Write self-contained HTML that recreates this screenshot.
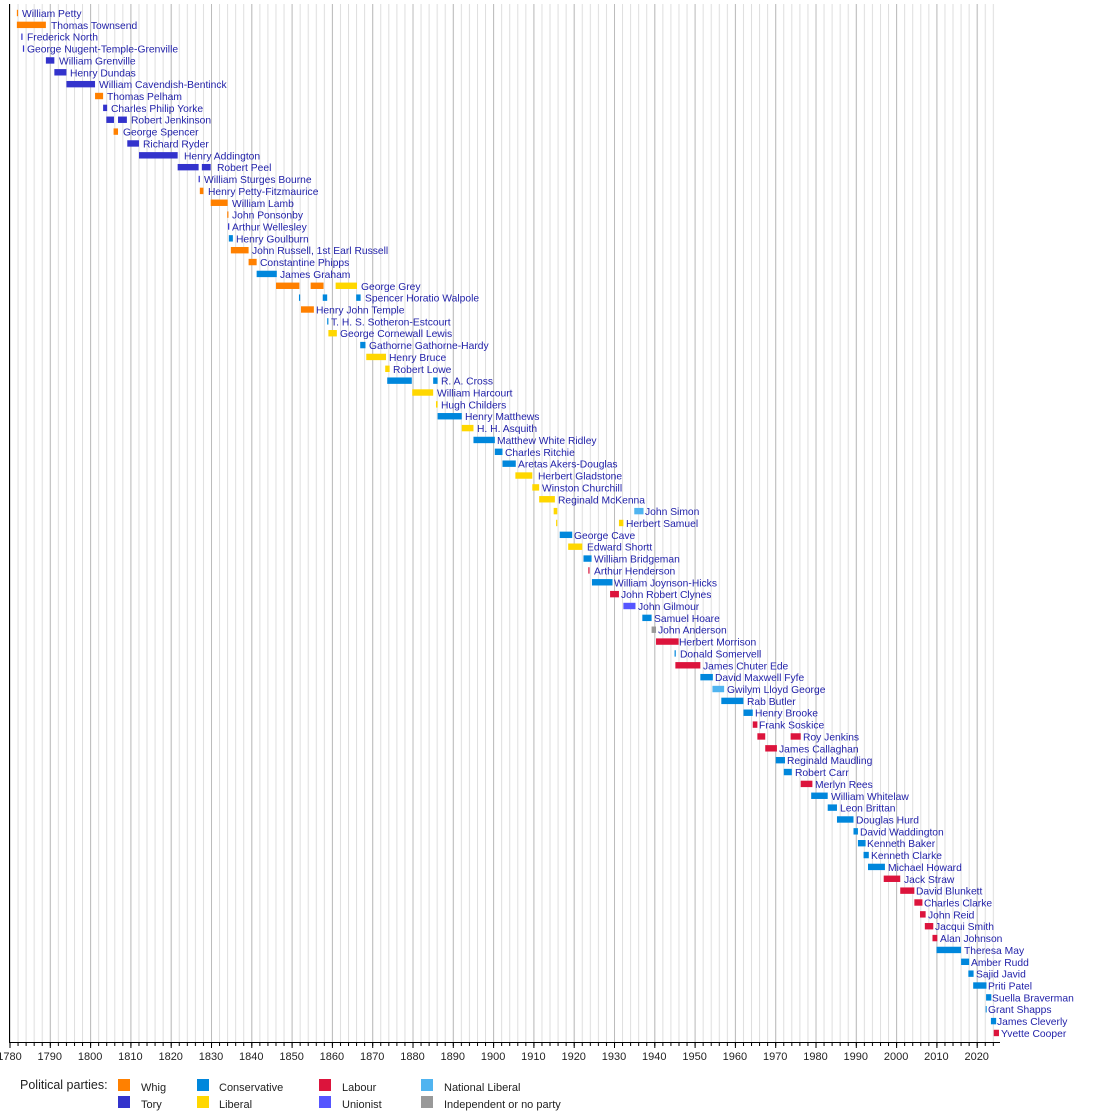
<!DOCTYPE html>
<html><head><meta charset="utf-8"><style>
html,body{margin:0;padding:0;background:#fff;}
svg{display:block;font-family:"Liberation Sans",Arial,sans-serif;}
.l{font-size:10.3px;fill:#1f1fa8;}
.a{font-size:11px;fill:#222;text-anchor:middle;}
.g{font-size:11px;fill:#222;}
</style></head><body>
<svg width="1100" height="1112" viewBox="0 0 1100 1112" xmlns="http://www.w3.org/2000/svg">
<defs>
<pattern id="mg" patternUnits="userSpaceOnUse" x="9.5" y="0" width="8.06" height="10"><rect x="0" y="0" width="1" height="10" fill="#dedede"/></pattern>
<pattern id="Mg" patternUnits="userSpaceOnUse" x="9.5" y="0" width="40.3" height="10"><rect x="0" y="0" width="1" height="10" fill="#bcbcbc"/></pattern>
<pattern id="mt" patternUnits="userSpaceOnUse" x="9.5" y="0" width="8.06" height="10"><rect x="0" y="0" width="1" height="10" fill="#000"/></pattern>
<pattern id="Mt" patternUnits="userSpaceOnUse" x="9.5" y="0" width="40.3" height="10"><rect x="0" y="0" width="1" height="10" fill="#000"/></pattern>
</defs>
<rect x="10" y="4" width="990" height="1038" fill="url(#mg)"/>
<rect x="10" y="4" width="990" height="1038" fill="url(#Mg)"/>
<rect x="9" y="4" width="1" height="1039" fill="#000"/>
<rect x="9" y="1042" width="991" height="1" fill="#000"/>
<rect x="10" y="1043" width="990" height="3" fill="url(#mt)"/>
<rect x="9" y="1043" width="991" height="5" fill="url(#Mt)"/>
<g>
<text class="a" x="9.5" y="1060">1780</text><text class="a" x="49.8" y="1060">1790</text><text class="a" x="90.1" y="1060">1800</text><text class="a" x="130.4" y="1060">1810</text><text class="a" x="170.7" y="1060">1820</text><text class="a" x="211" y="1060">1830</text><text class="a" x="251.3" y="1060">1840</text><text class="a" x="291.6" y="1060">1850</text><text class="a" x="331.9" y="1060">1860</text><text class="a" x="372.2" y="1060">1870</text><text class="a" x="412.5" y="1060">1880</text><text class="a" x="452.8" y="1060">1890</text><text class="a" x="493.1" y="1060">1900</text><text class="a" x="533.4" y="1060">1910</text><text class="a" x="573.7" y="1060">1920</text><text class="a" x="614" y="1060">1930</text><text class="a" x="654.3" y="1060">1940</text><text class="a" x="694.6" y="1060">1950</text><text class="a" x="734.9" y="1060">1960</text><text class="a" x="775.2" y="1060">1970</text><text class="a" x="815.5" y="1060">1980</text><text class="a" x="855.8" y="1060">1990</text><text class="a" x="896.1" y="1060">2000</text><text class="a" x="936.4" y="1060">2010</text><text class="a" x="976.7" y="1060">2020</text>
</g>
<g transform="translate(8,13) scale(4.03,11.86)">
<g transform="translate(0,-0.27)">
<rect x="2.2" y="0" width="0.3" height="0.54" fill="#ff8000"/>
<rect x="2.2" y="1" width="7.2" height="0.54" fill="#ff8000"/>
<rect x="3.3" y="2" width="0.3" height="0.54" fill="#3333cc"/>
<rect x="3.7" y="3" width="0.3" height="0.54" fill="#3333cc"/>
<rect x="9.4" y="4" width="2.1" height="0.54" fill="#3333cc"/>
<rect x="11.5" y="5" width="3" height="0.54" fill="#3333cc"/>
<rect x="14.5" y="6" width="7.1" height="0.54" fill="#3333cc"/>
<rect x="21.6" y="7" width="2" height="0.54" fill="#ff8000"/>
<rect x="23.6" y="8" width="1" height="0.54" fill="#3333cc"/>
<rect x="24.4" y="9" width="1.9" height="0.54" fill="#3333cc"/>
<rect x="27.3" y="9" width="2.2" height="0.54" fill="#3333cc"/>
<rect x="26.2" y="10" width="1.1" height="0.54" fill="#ff8000"/>
<rect x="29.6" y="11" width="2.9" height="0.54" fill="#3333cc"/>
<rect x="32.5" y="12" width="9.6" height="0.54" fill="#3333cc"/>
<rect x="42.1" y="13" width="5.2" height="0.54" fill="#3333cc"/>
<rect x="48.1" y="13" width="2.2" height="0.54" fill="#3333cc"/>
<rect x="47.3" y="14" width="0.3" height="0.54" fill="#3333cc"/>
<rect x="47.6" y="15" width="0.9" height="0.54" fill="#ff8000"/>
<rect x="50.3" y="16" width="4.2" height="0.54" fill="#ff8000"/>
<rect x="54.4" y="17" width="0.3" height="0.54" fill="#ff8000"/>
<rect x="54.6" y="18" width="0.3" height="0.54" fill="#3333cc"/>
<rect x="54.8" y="19" width="1" height="0.54" fill="#0087dc"/>
<rect x="55.3" y="20" width="4.4" height="0.54" fill="#ff8000"/>
<rect x="59.7" y="21" width="2" height="0.54" fill="#ff8000"/>
<rect x="61.7" y="22" width="5" height="0.54" fill="#0087dc"/>
<rect x="66.5" y="23" width="5.8" height="0.54" fill="#ff8000"/>
<rect x="75.1" y="23" width="3.2" height="0.54" fill="#ff8000"/>
<rect x="81.3" y="23" width="5.3" height="0.54" fill="#ffd700"/>
<rect x="72.2" y="24" width="0.3" height="0.54" fill="#0087dc"/>
<rect x="78.1" y="24" width="1.1" height="0.54" fill="#0087dc"/>
<rect x="86.4" y="24" width="1.1" height="0.54" fill="#0087dc"/>
<rect x="72.7" y="25" width="3.2" height="0.54" fill="#ff8000"/>
<rect x="79.2" y="26" width="0.3" height="0.54" fill="#0087dc"/>
<rect x="79.5" y="27" width="2.1" height="0.54" fill="#ffd700"/>
<rect x="87.4" y="28" width="1.3" height="0.54" fill="#0087dc"/>
<rect x="88.9" y="29" width="4.9" height="0.54" fill="#ffd700"/>
<rect x="93.6" y="30" width="1.1" height="0.54" fill="#ffd700"/>
<rect x="94.1" y="31" width="6.1" height="0.54" fill="#0087dc"/>
<rect x="105.5" y="31" width="1.1" height="0.54" fill="#0087dc"/>
<rect x="100.3" y="32" width="5.2" height="0.54" fill="#ffd700"/>
<rect x="106.2" y="33" width="0.4" height="0.54" fill="#ffd700"/>
<rect x="106.6" y="34" width="6" height="0.54" fill="#0087dc"/>
<rect x="112.6" y="35" width="2.9" height="0.54" fill="#ffd700"/>
<rect x="115.5" y="36" width="5.3" height="0.54" fill="#0087dc"/>
<rect x="120.8" y="37" width="1.9" height="0.54" fill="#0087dc"/>
<rect x="122.7" y="38" width="3.3" height="0.54" fill="#0087dc"/>
<rect x="125.9" y="39" width="4.2" height="0.54" fill="#ffd700"/>
<rect x="130.1" y="40" width="1.7" height="0.54" fill="#ffd700"/>
<rect x="131.8" y="41" width="3.9" height="0.54" fill="#ffd700"/>
<rect x="135.4" y="42" width="0.9" height="0.54" fill="#ffd700"/>
<rect x="155.4" y="42" width="2.3" height="0.54" fill="#50b4f0"/>
<rect x="136.0" y="43" width="0.3" height="0.54" fill="#ffd700"/>
<rect x="151.6" y="43" width="1.1" height="0.54" fill="#ffd700"/>
<rect x="136.9" y="44" width="3.1" height="0.54" fill="#0087dc"/>
<rect x="139.0" y="45" width="3.5" height="0.54" fill="#ffd700"/>
<rect x="142.8" y="46" width="2" height="0.54" fill="#0087dc"/>
<rect x="144.0" y="47" width="0.3" height="0.54" fill="#dc143c"/>
<rect x="144.9" y="48" width="5.1" height="0.54" fill="#0087dc"/>
<rect x="149.4" y="49" width="2.2" height="0.54" fill="#dc143c"/>
<rect x="152.7" y="50" width="3" height="0.54" fill="#5555ff"/>
<rect x="157.4" y="51" width="2.3" height="0.54" fill="#0087dc"/>
<rect x="159.7" y="52" width="1.1" height="0.54" fill="#999999"/>
<rect x="160.8" y="53" width="5.6" height="0.54" fill="#dc143c"/>
<rect x="165.4" y="54" width="0.3" height="0.54" fill="#0087dc"/>
<rect x="165.6" y="55" width="6.2" height="0.54" fill="#dc143c"/>
<rect x="171.8" y="56" width="3.1" height="0.54" fill="#0087dc"/>
<rect x="174.8" y="57" width="2.9" height="0.54" fill="#50b4f0"/>
<rect x="177.0" y="58" width="5.5" height="0.54" fill="#0087dc"/>
<rect x="182.5" y="59" width="2.3" height="0.54" fill="#0087dc"/>
<rect x="184.8" y="60" width="1.15" height="0.54" fill="#dc143c"/>
<rect x="185.95" y="61" width="1.95" height="0.54" fill="#dc143c"/>
<rect x="194.2" y="61" width="2.5" height="0.54" fill="#dc143c"/>
<rect x="187.9" y="62" width="2.9" height="0.54" fill="#dc143c"/>
<rect x="190.5" y="63" width="2.3" height="0.54" fill="#0087dc"/>
<rect x="192.5" y="64" width="2" height="0.54" fill="#0087dc"/>
<rect x="196.7" y="65" width="2.9" height="0.54" fill="#dc143c"/>
<rect x="199.3" y="66" width="4.1" height="0.54" fill="#0087dc"/>
<rect x="203.4" y="67" width="2.3" height="0.54" fill="#0087dc"/>
<rect x="205.7" y="68" width="4.1" height="0.54" fill="#0087dc"/>
<rect x="209.8" y="69" width="1.1" height="0.54" fill="#0087dc"/>
<rect x="210.9" y="70" width="1.9" height="0.54" fill="#0087dc"/>
<rect x="212.3" y="71" width="1.3" height="0.54" fill="#0087dc"/>
<rect x="213.4" y="72" width="4.2" height="0.54" fill="#0087dc"/>
<rect x="217.3" y="73" width="4.1" height="0.54" fill="#dc143c"/>
<rect x="221.4" y="74" width="3.5" height="0.54" fill="#dc143c"/>
<rect x="224.9" y="75" width="2" height="0.54" fill="#dc143c"/>
<rect x="226.3" y="76" width="1.4" height="0.54" fill="#dc143c"/>
<rect x="227.5" y="77" width="2.1" height="0.54" fill="#dc143c"/>
<rect x="229.4" y="78" width="1.2" height="0.54" fill="#dc143c"/>
<rect x="230.4" y="79" width="6.1" height="0.54" fill="#0087dc"/>
<rect x="236.5" y="80" width="2" height="0.54" fill="#0087dc"/>
<rect x="238.3" y="81" width="1.3" height="0.54" fill="#0087dc"/>
<rect x="239.5" y="82" width="3.3" height="0.54" fill="#0087dc"/>
<rect x="242.7" y="83" width="1.3" height="0.54" fill="#0087dc"/>
<rect x="242.6" y="84" width="0.25" height="0.54" fill="#0087dc"/>
<rect x="243.9" y="85" width="1.3" height="0.54" fill="#0087dc"/>
<rect x="244.6" y="86" width="1.3" height="0.54" fill="#dc143c"/>
</g>
</g>
<g class="lab">
<text class="l" x="22" y="17">William Petty</text>
<text class="l" x="51" y="28.9">Thomas Townsend</text>
<text class="l" x="27" y="40.7">Frederick North</text>
<text class="l" x="27" y="52.6">George Nugent-Temple-Grenville</text>
<text class="l" x="59" y="64.4">William Grenville</text>
<text class="l" x="70" y="76.3">Henry Dundas</text>
<text class="l" x="99" y="88.2">William Cavendish-Bentinck</text>
<text class="l" x="107" y="100">Thomas Pelham</text>
<text class="l" x="111" y="111.9">Charles Philip Yorke</text>
<text class="l" x="131" y="123.7">Robert Jenkinson</text>
<text class="l" x="123" y="135.6">George Spencer</text>
<text class="l" x="143" y="147.5">Richard Ryder</text>
<text class="l" x="184" y="159.3">Henry Addington</text>
<text class="l" x="217" y="171.2">Robert Peel</text>
<text class="l" x="204" y="183">William Sturges Bourne</text>
<text class="l" x="208" y="194.9">Henry Petty-Fitzmaurice</text>
<text class="l" x="232" y="206.8">William Lamb</text>
<text class="l" x="232" y="218.6">John Ponsonby</text>
<text class="l" x="232" y="230.5">Arthur Wellesley</text>
<text class="l" x="236" y="242.3">Henry Goulburn</text>
<text class="l" x="252" y="254.2">John Russell, 1st Earl Russell</text>
<text class="l" x="260" y="266.1">Constantine Phipps</text>
<text class="l" x="280" y="277.9">James Graham</text>
<text class="l" x="361" y="289.8">George Grey</text>
<text class="l" x="365" y="301.6">Spencer Horatio Walpole</text>
<text class="l" x="316" y="313.5">Henry John Temple</text>
<text class="l" x="331" y="325.4">T. H. S. Sotheron-Estcourt</text>
<text class="l" x="340" y="337.2">George Cornewall Lewis</text>
<text class="l" x="369" y="349.1">Gathorne Gathorne-Hardy</text>
<text class="l" x="389" y="360.9">Henry Bruce</text>
<text class="l" x="393" y="372.8">Robert Lowe</text>
<text class="l" x="441" y="384.7">R. A. Cross</text>
<text class="l" x="437" y="396.5">William Harcourt</text>
<text class="l" x="441" y="408.4">Hugh Childers</text>
<text class="l" x="465" y="420.2">Henry Matthews</text>
<text class="l" x="477" y="432.1">H. H. Asquith</text>
<text class="l" x="497" y="444">Matthew White Ridley</text>
<text class="l" x="505" y="455.8">Charles Ritchie</text>
<text class="l" x="518" y="467.7">Aretas Akers-Douglas</text>
<text class="l" x="538" y="479.5">Herbert Gladstone</text>
<text class="l" x="542" y="491.4">Winston Churchill</text>
<text class="l" x="558" y="503.3">Reginald McKenna</text>
<text class="l" x="645" y="515.1">John Simon</text>
<text class="l" x="626" y="527">Herbert Samuel</text>
<text class="l" x="574" y="538.8">George Cave</text>
<text class="l" x="587" y="550.7">Edward Shortt</text>
<text class="l" x="594" y="562.6">William Bridgeman</text>
<text class="l" x="594" y="574.4">Arthur Henderson</text>
<text class="l" x="614" y="586.3">William Joynson-Hicks</text>
<text class="l" x="621" y="598.1">John Robert Clynes</text>
<text class="l" x="638" y="610">John Gilmour</text>
<text class="l" x="654" y="621.9">Samuel Hoare</text>
<text class="l" x="658" y="633.7">John Anderson</text>
<text class="l" x="679" y="645.6">Herbert Morrison</text>
<text class="l" x="680" y="657.4">Donald Somervell</text>
<text class="l" x="703" y="669.3">James Chuter Ede</text>
<text class="l" x="715" y="681.2">David Maxwell Fyfe</text>
<text class="l" x="727" y="693">Gwilym Lloyd George</text>
<text class="l" x="747" y="704.9">Rab Butler</text>
<text class="l" x="755" y="716.7">Henry Brooke</text>
<text class="l" x="759" y="728.6">Frank Soskice</text>
<text class="l" x="803" y="740.5">Roy Jenkins</text>
<text class="l" x="779" y="752.3">James Callaghan</text>
<text class="l" x="787" y="764.2">Reginald Maudling</text>
<text class="l" x="795" y="776">Robert Carr</text>
<text class="l" x="815" y="787.9">Merlyn Rees</text>
<text class="l" x="831" y="799.8">William Whitelaw</text>
<text class="l" x="840" y="811.6">Leon Brittan</text>
<text class="l" x="856" y="823.5">Douglas Hurd</text>
<text class="l" x="860" y="835.3">David Waddington</text>
<text class="l" x="867" y="847.2">Kenneth Baker</text>
<text class="l" x="871" y="859.1">Kenneth Clarke</text>
<text class="l" x="888" y="870.9">Michael Howard</text>
<text class="l" x="904" y="882.8">Jack Straw</text>
<text class="l" x="916" y="894.6">David Blunkett</text>
<text class="l" x="924" y="906.5">Charles Clarke</text>
<text class="l" x="928" y="918.4">John Reid</text>
<text class="l" x="935" y="930.2">Jacqui Smith</text>
<text class="l" x="940" y="942.1">Alan Johnson</text>
<text class="l" x="964" y="953.9">Theresa May</text>
<text class="l" x="971" y="965.8">Amber Rudd</text>
<text class="l" x="976" y="977.7">Sajid Javid</text>
<text class="l" x="988" y="989.5">Priti Patel</text>
<text class="l" x="992" y="1001.4">Suella Braverman</text>
<text class="l" x="988" y="1013.2">Grant Shapps</text>
<text class="l" x="997" y="1025.1">James Cleverly</text>
<text class="l" x="1001" y="1037">Yvette Cooper</text>
</g>
<g>
<text x="20" y="1089" style="font-size:12.5px;fill:#222">Political parties:</text>
<rect x="118" y="1079" width="12" height="12" fill="#ff8000"/><text class="g" x="141" y="1091">Whig</text>
<rect x="118" y="1096" width="12" height="12" fill="#3333cc"/><text class="g" x="141" y="1108">Tory</text>
<rect x="197" y="1079" width="12" height="12" fill="#0087dc"/><text class="g" x="219" y="1091">Conservative</text>
<rect x="197" y="1096" width="12" height="12" fill="#ffd700"/><text class="g" x="219" y="1108">Liberal</text>
<rect x="319" y="1079" width="12" height="12" fill="#dc143c"/><text class="g" x="342" y="1091">Labour</text>
<rect x="319" y="1096" width="12" height="12" fill="#5555ff"/><text class="g" x="342" y="1108">Unionist</text>
<rect x="421" y="1079" width="12" height="12" fill="#50b4f0"/><text class="g" x="444" y="1091">National Liberal</text>
<rect x="421" y="1096" width="12" height="12" fill="#999999"/><text class="g" x="444" y="1108">Independent or no party</text>
</g>
</svg>
</body></html>
